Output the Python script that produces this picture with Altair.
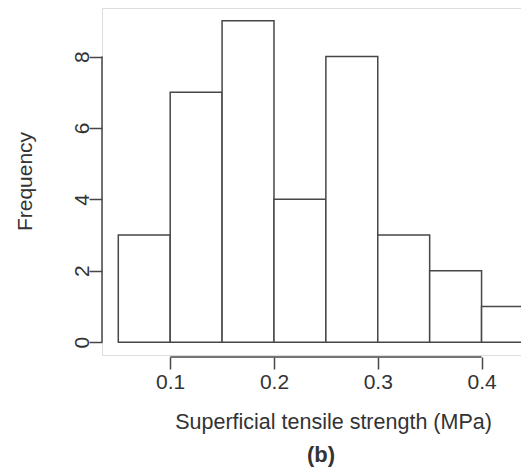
import altair as alt
import pandas as pd

# ---- data ----
bin_start = [0.05, 0.10, 0.15, 0.20, 0.25, 0.30, 0.35, 0.40]
bin_end = [0.10, 0.15, 0.20, 0.25, 0.30, 0.35, 0.40, 0.45]
counts = [3, 7, 9, 4, 8, 3, 2, 1]
x_ticks = [0.1, 0.2, 0.3, 0.4]
y_ticks = [0, 2, 4, 6, 8]
x_title = "Superficial tensile strength (MPa)"
y_title = "Frequency"
caption = "(b)"

# ---- layout / style ----
FONT = "Liberation Sans"
TEXT = "#333333"
LINE = "#474747"
SW = 1.5
PL = 94
W = 419
H = 347
PB = 459 - H
XDOM = [0.0343, 0.4380]
YDOM = [-0.36, 9.36]

df = pd.DataFrame({"start": bin_start, "end": bin_end, "count": counts})
xscale = alt.Scale(domain=XDOM, nice=False, zero=False)
yscale = alt.Scale(domain=YDOM, nice=False, zero=False)

bars = alt.Chart(df).mark_rect(
    fill="white", stroke=LINE, strokeWidth=SW, clip=True
).encode(
    x=alt.X(
        "start:Q", scale=xscale,
        axis=alt.Axis(
            values=x_ticks, format=".1f", domain=False, grid=False,
            offset=2, tickSize=12, tickColor=LINE, tickWidth=SW,
            labelFont=FONT, labelFontSize=21, labelColor=TEXT,
            labelBaseline="alphabetic", labelPadding=19, labelFlush=False,
            title=x_title, titleFont=FONT, titleFontSize=21.5,
            titleFontWeight="normal", titleColor=TEXT,
            titleX=231, titleY=71, titleAlign="center",
            titleBaseline="alphabetic", titleAnchor="start",
        ),
    ),
    x2="end:Q",
    y=alt.Y(
        "count:Q", scale=yscale,
        axis=alt.Axis(
            values=y_ticks, domain=False, grid=False,
            tickSize=13, tickColor=LINE, tickWidth=SW,
            labelFont=FONT, labelFontSize=21, labelColor=TEXT,
            labelAngle=270, labelAlign="center", labelBaseline="bottom",
            labelPadding=-3, labelFlush=False,
            title=y_title, titleFont=FONT, titleFontSize=21,
            titleFontWeight="normal", titleColor=TEXT,
            titleAngle=270, titleX=-71, titleY=173, titleAlign="center",
            titleBaseline="alphabetic", titleAnchor="start",
        ),
    ),
    y2=alt.datum(0),
)

yline = alt.Chart(pd.DataFrame({"lo": [y_ticks[0]], "hi": [y_ticks[-1]]})).mark_rule(
    color=LINE, strokeWidth=SW
).encode(x=alt.value(0), y=alt.Y("lo:Q", scale=yscale), y2="hi:Q")

xline = alt.Chart(pd.DataFrame({"lo": [x_ticks[0]], "hi": [x_ticks[-1]]})).mark_rule(
    color=LINE, strokeWidth=SW
).encode(x=alt.X("lo:Q", scale=xscale), x2="hi:Q", y=alt.value(H + 2))

cap = alt.Chart(pd.DataFrame({"t": [caption]})).mark_text(
    font=FONT, fontSize=22, fontWeight="bold", color=TEXT,
    align="center", baseline="alphabetic"
).encode(text="t:N", x=alt.value(219), y=alt.value(454))

chart = alt.layer(bars, yline, xline, cap).properties(
    width=W, height=H,
    autosize=alt.AutoSizeParams(type="none"),
    padding={"left": PL, "top": 0, "right": 0, "bottom": PB},
).configure_view(stroke=None).configure(background="white")

chart.save("out.html", embed_options={"renderer": "svg", "actions": False})
